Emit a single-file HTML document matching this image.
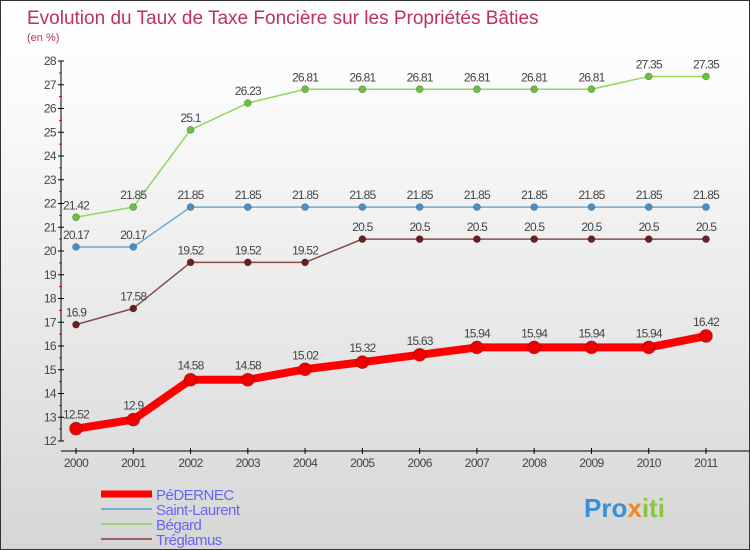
<!DOCTYPE html>
<html><head><meta charset="utf-8"><style>
body{margin:0}
#wrap{width:750px;height:550px;position:relative;box-sizing:border-box;border:1px solid #333;background:linear-gradient(#ffffff,#fafafa 20%,#d6d6d6);font-family:"Liberation Sans",sans-serif;overflow:hidden}
svg text{font-family:"Liberation Sans",sans-serif}
</style></head><body>
<div id="wrap">
<svg id="svg" width="750" height="550" style="position:absolute;left:0;top:0">
<text x="26" y="23" font-size="19" fill="#c0305e">Evolution du Taux de Taxe Foncière sur les Propriétés Bâties</text>
<text x="26" y="40" font-size="11" fill="#c0305e">(en %)</text>
<text x="583" y="516" font-size="26" font-weight="bold" fill="#3a8fd8">Pro<tspan fill="#f08a20">x</tspan><tspan fill="#8cc63f">iti</tspan></text>
</svg>
</div>
<script>
const years=[2000,2001,2002,2003,2004,2005,2006,2007,2008,2009,2010,2011];
const pedernec=[12.52,12.9,14.58,14.58,15.02,15.32,15.63,15.94,15.94,15.94,15.94,16.42];
const saintLaurent=[20.17,20.17,21.85,21.85,21.85,21.85,21.85,21.85,21.85,21.85,21.85,21.85];
const begard=[21.42,21.85,25.1,26.23,26.81,26.81,26.81,26.81,26.81,26.81,27.35,27.35];
const treglamus=[16.9,17.58,19.52,19.52,19.52,20.5,20.5,20.5,20.5,20.5,20.5,20.5];
const yTicks=[12,13,14,15,16,17,18,19,20,21,22,23,24,25,26,27,28];
const NS="http://www.w3.org/2000/svg";
const svg=document.getElementById('svg');
const x=i=>75+i*(630/11);
const y=v=>440-(v-12)*23.75;
function mk(t,a,p){const e=document.createElementNS(NS,t);for(const k in a)e.setAttribute(k,a[k]);(p||svg).appendChild(e);return e;}
let ya=mk('line',{x1:60,y1:60,x2:60,y2:440,stroke:'#000','stroke-width':1});


yTicks.forEach(v=>{
 mk('line',{x1:57,x2:63,y1:y(v),y2:y(v),stroke:'#000'});
 if(v<28)mk('line',{x1:58,x2:61,y1:y(v+0.5),y2:y(v+0.5),stroke:'#d00'});
 const t=mk('text',{x:55,y:y(v)+4,'font-size':12,fill:'#444','text-anchor':'end','letter-spacing':'-0.6'});
 t.textContent=v;
 
 
});
let xa=mk('line',{x1:60,y1:450,x2:750,y2:450,stroke:'#000'});


years.forEach((yr,i)=>{
 mk('line',{x1:x(i),x2:x(i),y1:447,y2:453,stroke:'#000'});
 const t=mk('text',{x:x(i),y:466,'font-size':12,fill:'#444','text-anchor':'middle','letter-spacing':'-0.6'});
 t.textContent=yr;
 
 
});
function series(vals,color,w,r,dot,name){
 const g=mk('g',{});
 
 
 mk('polyline',{points:vals.map((v,i)=>x(i)+','+y(v)).join(' '),fill:'none',stroke:color,'stroke-width':w,'stroke-linejoin':'round'},g);
 vals.forEach((v,i)=>{
  mk('circle',{cx:x(i),cy:y(v),r:r,fill:dot,stroke:'rgba(0,0,0,0.3)','stroke-width':0.7},g);
  const t=mk('text',{x:x(i),y:y(v)-8-(r>4?2:0),'font-size':12,fill:'#444','text-anchor':'middle','letter-spacing':'-0.8'},g);
  t.textContent=v;
 });
}
series(begard,'#90d860',1.5,3.5,'#6cc13c','series-begard');
series(saintLaurent,'#6fa8d0',1.5,3.5,'#4a90c8','series-saint-laurent');
series(treglamus,'#8a4a4a',1.5,3.5,'#6a1f1f','series-treglamus');
series(pedernec,'#ff0000',8,6.5,'#ee0000','series-pedernec');
const legend=[['PéDERNEC','#ff0000',7],['Saint-Laurent','#7aaed0',2],['Bégard','#9ad870',2],['Tréglamus','#9a6060',2]];
legend.forEach((l,i)=>{
 const yy=493+i*15;
 const g=mk('g',{});
 
 
 mk('line',{x1:100,x2:151,y1:yy,y2:yy,stroke:l[1],'stroke-width':l[2]},g);
 const t=mk('text',{x:155,y:yy+6,'font-size':15,fill:'#6666ee','letter-spacing':'-0.5'},g);
 t.textContent=l[0];
});
</script>
</body></html>
